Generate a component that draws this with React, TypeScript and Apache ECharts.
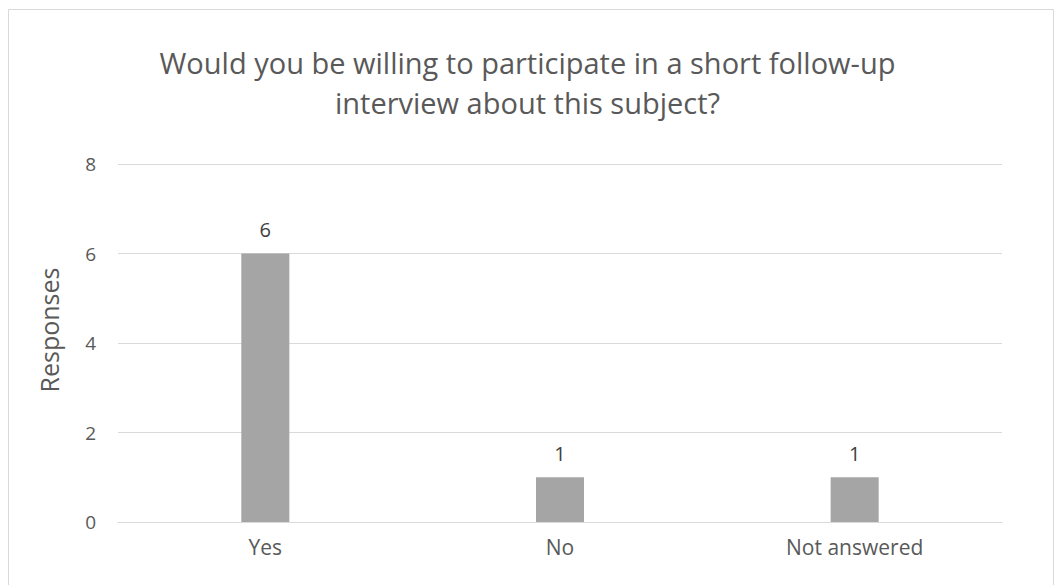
import React, { useEffect, useRef } from "react";
import * as echarts from "echarts";

const categories = ["Yes", "No", "Not answered"];
const responses = [6, 1, 1];
const yTicks = [0, 2, 4, 6, 8];
const titleLines = [
  "Would you be willing to participate in a short follow-up",
  "interview about this subject?",
];
const yAxisTitle = "Responses";

export default function App() {
  const ref = useRef<HTMLDivElement>(null);
  useEffect(() => {
    if (!ref.current) return;
    const chart = echarts.init(ref.current, null, { renderer: "svg" });
    const font = "'Open Sans', 'Liberation Sans', sans-serif";
    chart.setOption({
      animation: false,
      backgroundColor: "#ffffff",
      title: {
        text: titleLines.join("\n"),
        left: "center",
        top: 37,
        textStyle: {
          fontFamily: font,
          fontSize: 29,
          fontWeight: "normal",
          color: "#595959",
          lineHeight: 40,
        },
      },
      graphic: [
        {
          type: "rect",
          shape: { x: 8.5, y: 9.5, width: 1045, height: 590 },
          style: { fill: "none", stroke: "#d9d9d9", lineWidth: 1 },
          silent: true,
        },
        {
          type: "text",
          x: 49,
          y: 330,
          rotation: Math.PI / 2,
          style: {
            text: yAxisTitle,
            fontFamily: font,
            fontSize: 25,
            fill: "#595959",
            align: "center",
            verticalAlign: "middle",
          },
        },
      ],
      grid: { left: 118, right: 53, top: 164, bottom: 63, containLabel: false },
      xAxis: {
        type: "category",
        data: categories,
        axisLine: { show: true, lineStyle: { color: "#d9d9d9" } },
        axisTick: { show: false },
        axisLabel: {
          fontFamily: font,
          fontSize: 21,
          color: "#595959",
          margin: 14,
        },
      },
      yAxis: {
        type: "value",
        min: yTicks[0],
        max: yTicks[yTicks.length - 1],
        interval: 2,
        axisLine: { show: false },
        axisTick: { show: false },
        splitLine: { lineStyle: { color: "#d9d9d9" } },
        axisLabel: {
          fontFamily: font,
          fontSize: 19,
          color: "#595959",
          margin: 22,
        },
      },
      series: [
        {
          type: "bar",
          data: responses,
          barWidth: "16.3%",
          itemStyle: { color: "#a5a5a5" },
          label: {
            show: true,
            position: "top",
            distance: 14,
            fontFamily: font,
            fontSize: 20,
            color: "#404040",
          },
        },
      ],
    });
    return () => chart.dispose();
  }, []);
  return (
    <div
      ref={ref}
      style={{ position: "fixed", left: 0, top: 0, width: 1055, height: 585 }}
    />
  );
}
